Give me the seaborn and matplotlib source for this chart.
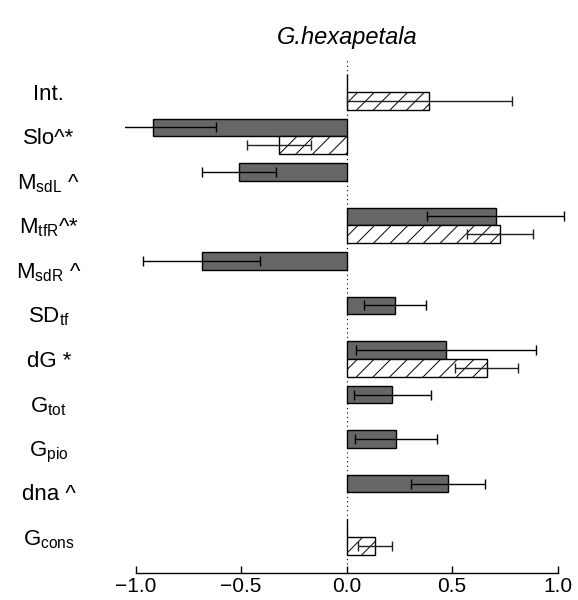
import numpy as np
import pandas as pd
import seaborn as sns
import matplotlib
matplotlib.use("Agg")
import matplotlib.pyplot as plt

# terms, top to bottom
terms = ["Int.", "Slo", "MsdL", "MtfR", "MsdR", "SDtf", "dG", "Gtot", "Gpio", "dna", "Gcons"]
term_labels = ["Int.", "Slo^*", r"M$_{\mathrm{sdL}}$ ^", r"M$_{\mathrm{tfR}}$^*", r"M$_{\mathrm{sdR}}$ ^",
               r"SD$_{\mathrm{tf}}$", "dG *", r"G$_{\mathrm{tot}}$", r"G$_{\mathrm{pio}}$", "dna ^",
               r"G$_{\mathrm{cons}}$"]

# solid grey series (estimate, half error bar)
solid_est = [0.0, -0.917, -0.509, 0.706, -0.687, 0.229, 0.472, 0.217, 0.233, 0.48, 0.0]
solid_err = [np.nan, 0.30, 0.175, 0.326, 0.277, 0.148, 0.426, 0.181, 0.195, 0.175, np.nan]

# hatched series
hatch_est = [0.392, -0.322, np.nan, 0.725, np.nan, np.nan, 0.664, np.nan, np.nan, np.nan, 0.134]
hatch_err = [0.392, 0.152, np.nan, 0.156, np.nan, np.nan, 0.149, np.nan, np.nan, np.nan, 0.082]

groups = ["solid", "hatched"]
xticks = [-1.0, -0.5, 0.0, 0.5, 1.0]

sns.set_theme(style="white")
plt.rcParams["font.family"] = ["Liberation Sans", "DejaVu Sans"]
plt.rcParams["mathtext.fontset"] = "custom"
plt.rcParams["mathtext.rm"] = "Liberation Sans"
plt.rcParams["mathtext.it"] = "Liberation Sans:italic"
plt.rcParams["hatch.linewidth"] = 0.7
plt.rcParams["text.color"] = "black"
plt.rcParams["xtick.color"] = "black"
plt.rcParams["ytick.color"] = "black"

df = pd.DataFrame({
    "term": terms * 2,
    "value": solid_est + hatch_est,
    "group": ["solid"] * len(terms) + ["hatched"] * len(terms),
}).dropna()

fig = plt.figure(figsize=(5.78, 6.0), dpi=100)
ax = fig.add_axes([0.2165, 0.045, 0.7666, 0.8583])

ax.axvline(0, color="black", lw=0.8, ls=(0, (1, 3)), zorder=0)

sns.barplot(data=df, x="value", y="term", hue="group", order=terms, hue_order=groups,
            orient="h", palette={"solid": "#666666", "hatched": "white"},
            edgecolor="black", linewidth=1, errorbar=None, width=0.8,
            legend=False, ax=ax, zorder=2)

for bar in ax.containers[1]:
    bar.set_hatch("//")

# error bars at the dodged bar centres
pos = np.arange(len(terms))
ax.errorbar(solid_est, pos - 0.2, xerr=solid_err, fmt="none", ecolor="black",
            elinewidth=1, capsize=3.3, capthick=1, zorder=3)
ax.errorbar(hatch_est, pos + 0.2, xerr=hatch_err, fmt="none", ecolor="#222222",
            elinewidth=1, capsize=3.3, capthick=1, zorder=3)

ax.set_xlim(-1.05, 1.05)
ax.set_ylim(len(terms) - 1 + 0.81, -0.76)
ax.set_xticks(xticks)
ax.set_xticklabels([f"{v:.1f}".replace("-", "\u2212") for v in xticks])
ax.set_yticks(pos)
ax.set_yticklabels(term_labels)
for lab in ax.get_yticklabels():
    lab.set_ha("center")
ax.tick_params(axis="y", length=0, pad=55, labelsize=16)
ax.tick_params(axis="x", direction="in", length=5, width=1, pad=3, labelsize=15,
               bottom=True)
ax.set_xlabel("")
ax.set_ylabel("")

for s in ["left", "top", "right"]:
    ax.spines[s].set_visible(False)
ax.spines["bottom"].set_bounds(-1.0, 1.0)
ax.spines["bottom"].set_color("black")
ax.spines["bottom"].set_linewidth(1)

ax.set_title("G.hexapetala", fontstyle="italic", fontsize=17, pad=10)

fig.savefig("out.png", dpi=100)
